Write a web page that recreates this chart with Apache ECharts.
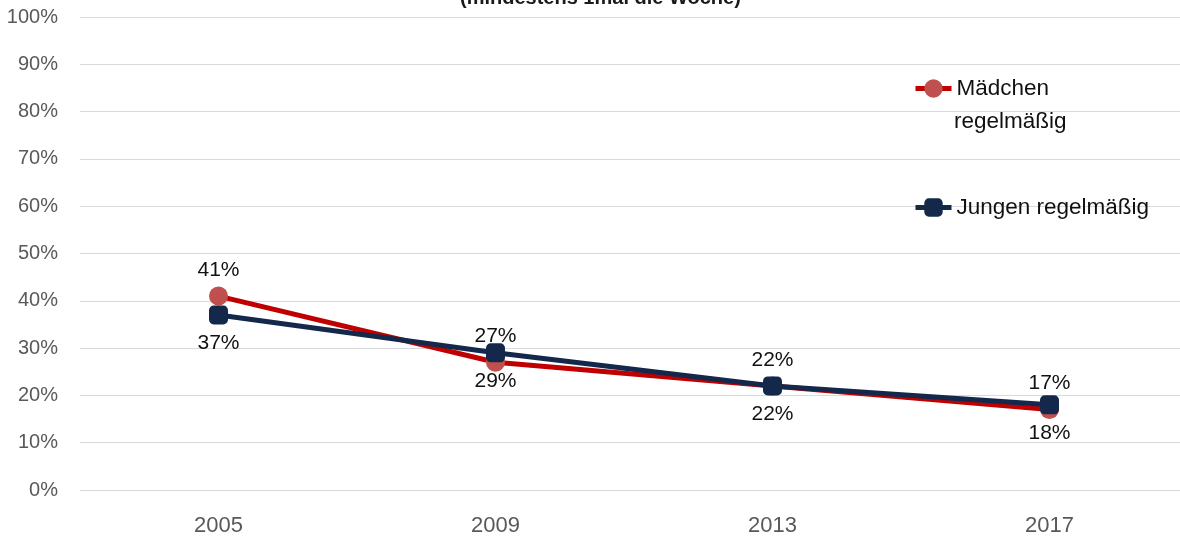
<!DOCTYPE html>
<html>
<head>
<meta charset="utf-8">
<script src="https://cdn.jsdelivr.net/npm/echarts@6/dist/echarts.min.js"></script>
<style>
  html, body { margin: 0; padding: 0; background: #fff; overflow: hidden; }
  /* plot area runs slightly past the right edge of the window */
  #chart { width: 1188px; height: 541px; }
</style>
</head>
<body>
<div id="chart"></div>
<script>
// Survey years and the share of regular (at least weekly) users, in percent
const years = ['2005', '2009', '2013', '2017'];
const maedchen = [41, 27, 22, 17];
const jungen = [37, 29, 22, 18];
const yTicks = [0, 10, 20, 30, 40, 50, 60, 70, 80, 90, 100];

const NAME_M = 'Mädchen regelmäßig';
const NAME_J = 'Jungen regelmäßig';
const font = '"Liberation Sans", Arial, sans-serif';

const legendBase = {
  orient: 'vertical',
  left: 913,
  padding: 0,
  itemWidth: 36,
  itemHeight: 23,
  lineStyle: { width: 5 },
  textStyle: { fontFamily: font, fontSize: 22.5, color: '#111' }
};

const chart = echarts.init(document.getElementById('chart'));
chart.setOption({
  animation: false,
  backgroundColor: '#ffffff',
  title: {
    text: '(mindestens 1mal die Woche)',
    left: 455,
    top: -17,
    textStyle: { fontFamily: font, fontSize: 20, fontWeight: 'bold', color: '#1a1a1a' }
  },
  grid: { left: 80, top: 17, width: 1108, height: 473, containLabel: false },
  legend: [
    Object.assign({}, legendBase, {
      data: [NAME_M],
      top: 77,
      formatter: () => 'Mädchen'
    }),
    Object.assign({}, legendBase, {
      data: [NAME_J],
      top: 196
    })
  ],
  // second line of the wrapped legend label for the girls' series
  graphic: [{
    type: 'text',
    left: 954,
    top: 110,
    style: { text: 'regelmäßig', font: '22.5px "Liberation Sans", Arial, sans-serif', fill: '#111' }
  }],
  xAxis: {
    type: 'category',
    data: years,
    boundaryGap: true,
    axisLine: { show: false },
    axisTick: { show: false },
    axisLabel: { fontFamily: font, fontSize: 22, color: '#595959', margin: 25 }
  },
  yAxis: {
    type: 'value',
    min: yTicks[0],
    max: yTicks[yTicks.length - 1],
    interval: yTicks[1] - yTicks[0],
    axisLine: { show: false },
    axisTick: { show: false },
    splitLine: { lineStyle: { color: '#d9d9d9', width: 1 } },
    axisLabel: { fontFamily: font, fontSize: 20, color: '#595959', margin: 22, formatter: '{value}%' }
  },
  series: [
    {
      name: NAME_M,
      type: 'line',
      data: maedchen,
      symbol: 'circle',
      symbolSize: 19,
      lineStyle: { color: '#c00000', width: 5 },
      itemStyle: { color: '#c0504d' },
      label: {
        show: true, position: 'top', distance: 6,
        formatter: '{c}%',
        fontFamily: font, fontSize: 21, color: '#111'
      },
      z: 2
    },
    {
      name: NAME_J,
      type: 'line',
      data: jungen,
      symbol: 'roundRect',
      symbolSize: 19,
      lineStyle: { color: '#13284b', width: 5 },
      itemStyle: { color: '#13284b' },
      label: {
        show: true, position: 'bottom', distance: 8,
        formatter: '{c}%',
        fontFamily: font, fontSize: 21, color: '#111'
      },
      z: 3
    }
  ]
});
</script>
</body>
</html>
